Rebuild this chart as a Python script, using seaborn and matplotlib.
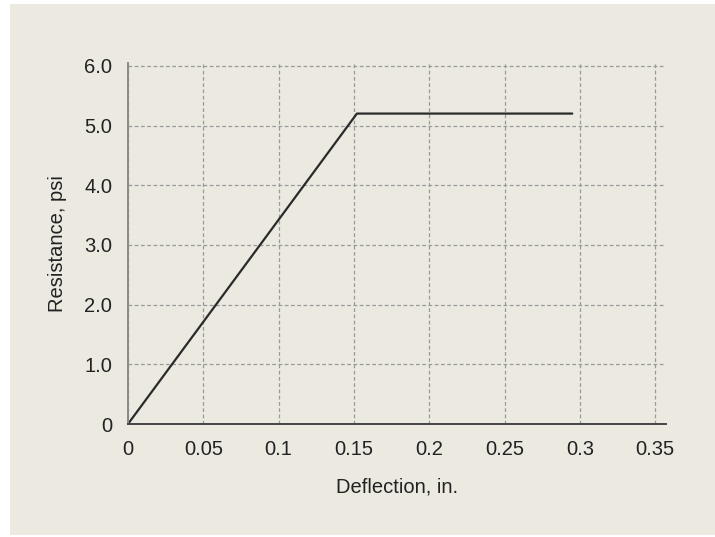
import numpy as np
import pandas as pd
import seaborn as sns
from matplotlib import pyplot as plt
from matplotlib.patches import Rectangle

# resistance-deflection curve (elastic then perfectly plastic)
deflection = [0.0, 0.152, 0.295]
resistance = [0.0, 5.2, 5.2]
xticks = [0, 0.05, 0.1, 0.15, 0.2, 0.25, 0.3, 0.35]
xtick_labels = ["0", "0.05", "0.1", "0.15", "0.2", "0.25", "0.3", "0.35"]
yticks = [0, 1, 2, 3, 4, 5, 6]
ytick_labels = ["0", "1.0", "2.0", "3.0", "4.0", "5.0", "6.0"]

df = pd.DataFrame({"deflection": deflection, "resistance": resistance})

sns.set_style("white")
plt.rcParams["font.family"] = ["Liberation Sans", "DejaVu Sans"]

bg = "#ebe9e0"
fig = plt.figure(figsize=(7.15, 5.37), dpi=100, facecolor="white")
fig.add_artist(Rectangle((10 / 715, 0.004), 1, 1 - 0.004 - 4 / 537,
                         transform=fig.transFigure, facecolor=bg,
                         edgecolor="none", zorder=-10))
ax = fig.add_axes((0.179, 0.2104, 0.931 - 0.179, 0.883 - 0.2104))
ax.set_facecolor(bg)

sns.lineplot(data=df, x="deflection", y="resistance", color="#2a2a2a",
             linewidth=1.6, ax=ax)

ax.set_xlim(0, 0.357)
ax.set_ylim(0, 6.05)
ax.set_xticks(xticks, xtick_labels)
ax.set_yticks(yticks, ytick_labels)
ax.grid(True, linestyle=(0, (3, 2)), color="#9a9a9a", linewidth=0.9)
ax.set_axisbelow(True)

for side in ["top", "right"]:
    ax.spines[side].set_visible(False)
ax.spines["left"].set_color("#8a8a8a")
ax.spines["left"].set_linewidth(1.4)
ax.spines["bottom"].set_color("#444444")
ax.spines["bottom"].set_linewidth(1.4)
ax.spines["left"].set_zorder(3)
ax.spines["bottom"].set_zorder(3)

ax.tick_params(axis="x", direction="inout", length=9, width=1.1,
               color="#444444", labelsize=14.5, pad=7, labelcolor="#222222")
ax.tick_params(axis="y", direction="out", length=5, width=1.1,
               color="#666666", labelsize=14.5, pad=6.5, labelcolor="#222222")

ax.set_xlabel("Deflection, in.", fontsize=14.5, labelpad=13, color="#222222")
ax.set_ylabel("Resistance, psi", fontsize=14.5, labelpad=12, color="#222222")

plt.savefig("out.png", dpi=100, facecolor=fig.get_facecolor())
